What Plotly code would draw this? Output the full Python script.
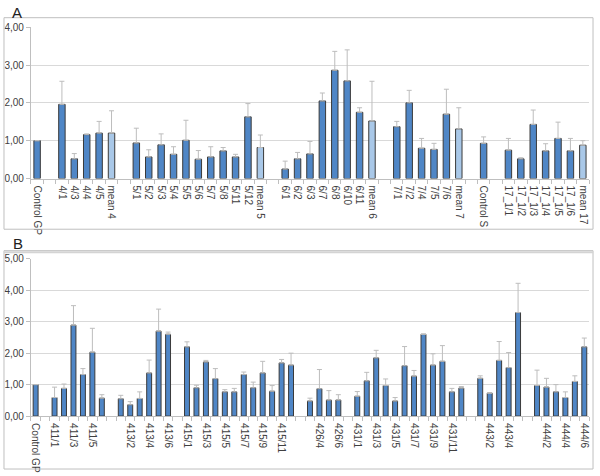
import plotly.graph_objects as go

W, H = 600, 476

# ---------------- Panel A data ----------------
cats_a = ["Control GP", "", "4/1", "4/3", "4/4", "4/5", "mean 4", "",
          "5/1", "5/2", "5/3", "5/4", "5/5", "5/6", "5/7", "5/8", "5/11", "5/12", "mean 5", "",
          "6/1", "6/2", "6/3", "6/7", "6/8", "6/10", "6/11", "mean 6", "",
          "7/1", "7/2", "7/4", "7/5", "7/6", "mean 7", "",
          "Control S", "",
          "17_1/1", "17_1/2", "17_1/3", "17_1/4", "17_1/5", "17_1/6", "mean 17"]
vals_a = [1.00, None, 1.96, 0.52, 1.16, 1.20, 1.20, None,
          0.94, 0.57, 0.89, 0.64, 1.01, 0.51, 0.57, 0.73, 0.57, 1.63, 0.82, None,
          0.25, 0.52, 0.65, 2.05, 2.86, 2.58, 1.75, 1.52, None,
          1.37, 2.00, 0.80, 0.77, 1.70, 1.31, None,
          0.93, None,
          0.75, 0.52, 1.43, 0.73, 1.06, 0.73, 0.88]
err_a = [None, None, 0.61, 0.14, 0.02, 0.31, 0.59, None,
         0.39, 0.19, 0.29, 0.20, 0.53, 0.23, 0.27, 0.09, 0.07, 0.35, 0.33, None,
         0.21, 0.17, 0.33, 0.21, 0.50, 0.82, 0.12, 1.05, None,
         0.14, 0.33, 0.26, 0.16, 0.66, 0.56, None,
         0.17, None,
         0.31, 0.03, 0.38, 0.19, 0.43, 0.33, 0.12]

# ---------------- Panel B data ----------------
cats_b = ["Control GP", "",
          "411/1", "411/2", "411/3", "411/4", "411/5", "411/6", "",
          "413/1", "413/2", "413/3", "413/4", "413/5", "413/6", "",
          "415/1", "415/2", "415/3", "415/4", "415/5", "415/6", "415/7", "415/8",
          "415/9", "415/10", "415/11", "415/12", "",
          "426/3", "426/4", "426/5", "426/6", "",
          "431/1", "431/2", "431/3", "431/4", "431/5", "431/6", "431/7", "431/8",
          "431/9", "431/10", "431/11", "431/12", "",
          "443/1", "443/2", "443/3", "443/4", "443/5", "",
          "444/1", "444/2", "444/3", "444/4", "444/5", "444/6"]
vals_b = [1.00, None,
          0.59, 0.88, 2.89, 1.32, 2.03, 0.57, None,
          0.55, 0.36, 0.56, 1.37, 2.70, 2.60, None,
          2.20, 0.90, 1.72, 1.19, 0.77, 0.77, 1.32, 0.90, 1.37, 0.79, 1.69, 1.62, None,
          0.48, 0.87, 0.51, 0.51, None,
          0.63, 1.12, 1.85, 0.97, 0.48, 1.60, 1.27, 2.60, 1.62, 1.74, 0.77, 0.89, None,
          1.20, 0.73, 1.77, 1.54, 3.29, None,
          0.97, 0.92, 0.77, 0.59, 1.10, 2.20]
err_b = [None, None,
         0.33, 0.14, 0.62, 0.19, 0.76, 0.11, None,
         0.11, 0.10, 0.21, 0.41, 0.70, 0.07, None,
         0.16, 0.08, 0.05, 0.32, 0.07, 0.11, 0.08, 0.18, 0.37, 0.18, 0.11, 0.38, None,
         0.09, 0.61, 0.30, 0.17, None,
         0.15, 0.27, 0.24, 0.21, 0.11, 0.61, 0.18, None, 0.36, 0.50, 0.11, 0.05, None,
         0.08, None, 0.60, 0.48, 0.93, None,
         0.49, 0.28, 0.23, 0.18, 0.18, 0.28]

DARK = "#4F86C6"
LIGHT = "#A9C8E8"
EDGE = "#3A3A3A"
ERRC = "#BDBDBD"
GRID = "#D9D9D9"
AX = "#BFBFBF"
TXT = "#404040"
FONT = "Liberation Sans, Arial, sans-serif"


def bar_trace(cats, vals, errs, xa, ya):
    xs = list(range(len(cats)))
    colors = [LIGHT if c.startswith("mean") else DARK for c in cats]
    return go.Bar(
        x=xs, y=vals, xaxis=xa, yaxis=ya,
        marker=dict(color=colors, line=dict(color=EDGE, width=1)),
        error_y=dict(type="data", array=errs, symmetric=False,
                     arrayminus=[0] * len(errs), color=ERRC,
                     thickness=1, width=2.5),
        showlegend=False, hoverinfo="skip",
    )


fig = go.Figure()
fig.add_trace(bar_trace(cats_a, vals_a, err_a, "x", "y"))
fig.add_trace(bar_trace(cats_b, vals_b, err_b, "x2", "y2"))

x_dom = [30 / W, 590 / W]
ya_dom = [1 - 177 / H, 1 - 21.7 / H]
yb_dom = [1 - 420.7 / H, 1 - 259.3 / H]

tick_a = [i for i, c in enumerate(cats_a) if c]
tick_b = [i for i in range(0, len(cats_b), 2)]

common_x = dict(
    showgrid=False, zeroline=False, showline=True, linecolor=AX, linewidth=1,
    tickangle=90, ticks="", ticklabelstandoff=4,
    tickfont=dict(family=FONT, size=10, color=TXT),
    minor=dict(ticks="outside", tickmode="linear", tick0=0.5, dtick=1,
               ticklen=4, tickcolor=AX, showgrid=False),
)
common_y = dict(
    showgrid=True, gridcolor=GRID, gridwidth=1, zeroline=False,
    showline=True, linecolor=AX, linewidth=1, ticks="outside", ticklen=4,
    tickcolor=AX, tickformat=".2f", tickfont=dict(family=FONT, size=10, color=TXT),
)

fig.update_layout(
    width=W, height=H,
    margin=dict(l=0, r=0, t=0, b=0),
    paper_bgcolor="white", plot_bgcolor="white",
    separators=",.",
    bargap=0.48,
    xaxis=dict(common_x, domain=x_dom, anchor="y", range=[-0.5, len(cats_a) - 0.5],
               tickmode="array", tickvals=tick_a, ticktext=[cats_a[i] for i in tick_a]),
    yaxis=dict(common_y, domain=ya_dom, anchor="x", range=[0, 4], tickvals=[0, 1, 2, 3, 4]),
    xaxis2=dict(common_x, domain=x_dom, anchor="y2", range=[-0.5, len(cats_b) - 0.5],
                tickmode="array", tickvals=tick_b, ticktext=[cats_b[i] for i in tick_b]),
    yaxis2=dict(common_y, domain=yb_dom, anchor="x2", range=[0, 5],
                tickvals=[0, 1, 2, 3, 4, 5]),
    shapes=[
        dict(type="rect", xref="paper", yref="paper", x0=3 / W, x1=594 / W,
             y0=1 - 229 / H, y1=1 - 12 / H, line=dict(color=AX, width=1)),
        dict(type="rect", xref="paper", yref="paper", x0=3 / W, x1=594 / W,
             y0=1 - 475 / H, y1=1 - 251 / H, line=dict(color=AX, width=1)),
        dict(type="line", xref="paper", yref="paper", x0=3 / W, x1=594 / W,
             y0=1 - 252.5 / H, y1=1 - 252.5 / H, line=dict(color="#D4D4D4", width=2)),
    ],
    annotations=[
        dict(text="A", x=16 / W, y=1 - 7 / H, xref="paper", yref="paper",
             xanchor="center", yanchor="middle", showarrow=False, borderpad=0,
             font=dict(family=FONT, size=15, color="#202020")),
        dict(text="B", x=17 / W, y=1 - 244 / H, xref="paper", yref="paper",
             xanchor="center", yanchor="middle", showarrow=False, borderpad=0,
             font=dict(family=FONT, size=15, color="#202020")),
    ],
)

fig.write_html("out.html", config={"displayModeBar": False},
               post_script="document.body.style.margin='0px';document.body.style.overflow='hidden';")
